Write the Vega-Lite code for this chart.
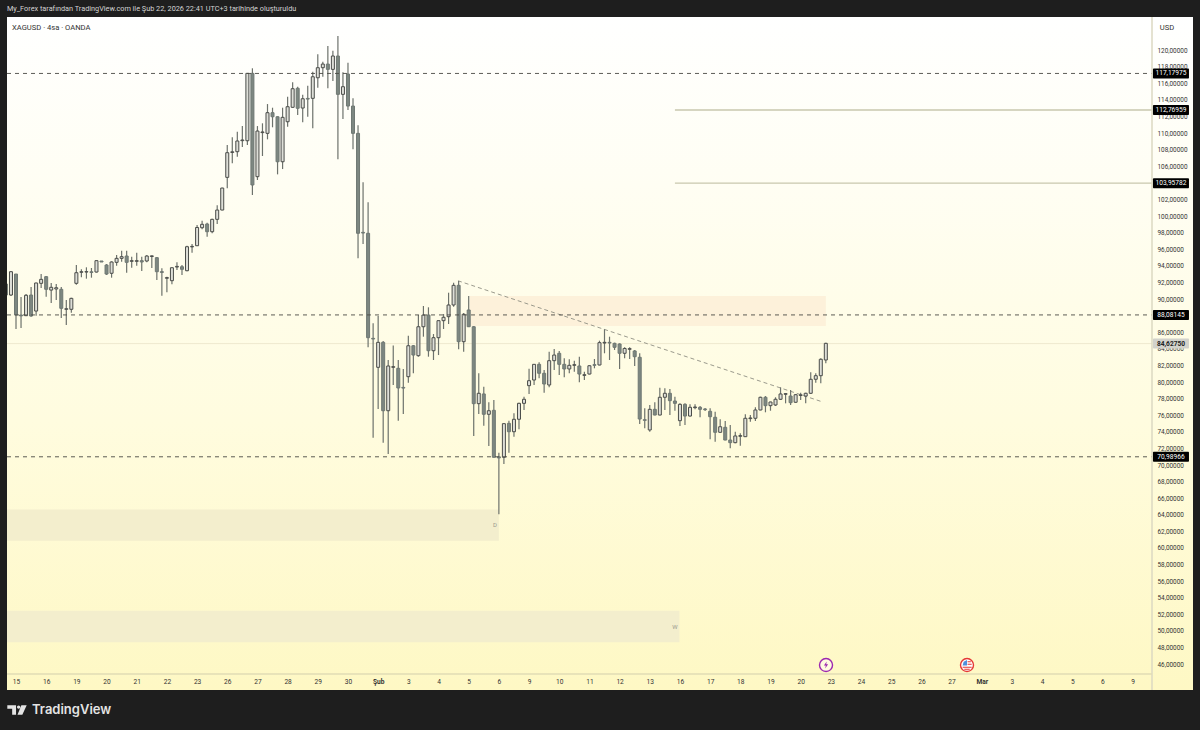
{
"$schema":"https://vega.github.io/schema/vega-lite/v6.json",
"width":1186,"height":673,
"autosize":{"type":"none"},
"padding":{"left":7,"top":17,"right":7,"bottom":40},
"background":"#1e1e1e",
"view":{"stroke":null,"fill":{"gradient":"linear","x1":0,"y1":0,"x2":0,"y2":1,"stops":[{"offset":0,"color":"#ffffff"},{"offset":0.25,"color":"#fffef3"},{"offset":0.6,"color":"#fffcdf"},{"offset":1,"color":"#fef8c4"}]}},
"datasets":{
"candles":[
{"i":-2,"o":91.81,"c":90.48,"h":92.05,"l":90.48},{"i":-1,"o":90.48,"c":93.29,"h":93.37,"l":90.36},{"i":0,"o":93.01,"c":88.07,"h":93.01,"l":86.39},{"i":1,"o":88.07,"c":87.97,"h":90.24,"l":86.51},{"i":2,"o":87.99,"c":90.45,"h":90.6,"l":87.95},{"i":3,"o":90.48,"c":87.95,"h":91.45,"l":87.87},{"i":4,"o":88.55,"c":91.93,"h":91.96,"l":87.99},{"i":5,"o":91.89,"c":92.37,"h":93.01,"l":91.33},{"i":6,"o":92.69,"c":91.17,"h":92.77,"l":90.28},{"i":7,"o":91.08,"c":91.41,"h":91.93,"l":89.52},{"i":8,"o":91.21,"c":91.36,"h":91.81,"l":89.88},{"i":9,"o":91.17,"c":88.88,"h":91.45,"l":87.71},{"i":10,"o":88.76,"c":88.83,"h":89.88,"l":86.87},{"i":11,"o":88.76,"c":90.08,"h":90.16,"l":88.35},{"i":12,"o":91.89,"c":93.17,"h":94.1,"l":91.72},{"i":13,"o":93.22,"c":93.29,"h":93.58,"l":92.61},{"i":14,"o":93.25,"c":93.3,"h":93.82,"l":92.45},{"i":15,"o":93.28,"c":93.2,"h":93.74,"l":92.57},{"i":16,"o":93.25,"c":94.62,"h":94.64,"l":93.19},{"i":17,"o":94.58,"c":94.46,"h":94.58,"l":94.46},{"i":18,"o":94.1,"c":93.01,"h":94.22,"l":92.89},{"i":19,"o":93.1,"c":94.46,"h":94.54,"l":92.57},
{"i":20,"o":94.42,"c":94.9,"h":95.3,"l":94.01},{"i":21,"o":94.9,"c":95.1,"h":95.82,"l":94.49},{"i":22,"o":95.18,"c":94.42,"h":95.82,"l":93.17},{"i":23,"o":94.54,"c":94.62,"h":95.1,"l":93.77},{"i":24,"o":94.54,"c":94.62,"h":95.58,"l":94.01},{"i":25,"o":94.62,"c":94.46,"h":95.1,"l":93.37},{"i":26,"o":94.58,"c":95.18,"h":95.3,"l":94.42},{"i":27,"o":95.12,"c":95.2,"h":95.24,"l":93.74},{"i":28,"o":94.98,"c":93.29,"h":95.06,"l":92.29},{"i":29,"o":93.3,"c":93.2,"h":93.7,"l":90.4},{"i":30,"o":92.5,"c":92.58,"h":92.69,"l":90.81},{"i":31,"o":92.21,"c":93.77,"h":93.8,"l":91.77},{"i":32,"o":93.85,"c":93.93,"h":94.42,"l":93.49},{"i":33,"o":93.89,"c":93.58,"h":94.1,"l":92.89},{"i":34,"o":93.41,"c":96.3,"h":96.42,"l":93.34},{"i":35,"o":96.28,"c":96.34,"h":96.63,"l":95.58},{"i":36,"o":96.42,"c":98.62,"h":98.92,"l":96.39},{"i":37,"o":98.59,"c":99,"h":99.43,"l":98.4},{"i":38,"o":99.04,"c":98.11,"h":99.19,"l":97.51},{"i":39,"o":98.11,"c":99.6,"h":99.68,"l":97.92},
{"i":40,"o":99.6,"c":100.72,"h":101.29,"l":99.04},{"i":41,"o":100.72,"c":103.37,"h":103.41,"l":100.69},{"i":42,"o":104.66,"c":107.63,"h":108.55,"l":103.34},{"i":43,"o":107.66,"c":107.74,"h":109.48,"l":106.35},{"i":44,"o":107.75,"c":109.04,"h":110.16,"l":107.15},{"i":45,"o":109.08,"c":109.16,"h":110.84,"l":108.31},{"i":46,"o":109.07,"c":117.19,"h":117.23,"l":108.55},{"i":47,"o":117.19,"c":103.74,"h":117.8,"l":102.53},{"i":48,"o":104.74,"c":110.24,"h":110.84,"l":104.34},{"i":49,"o":110.05,"c":110.13,"h":111.17,"l":107.23},{"i":50,"o":109.96,"c":112.45,"h":113.49,"l":109.24},{"i":51,"o":112.45,"c":111.96,"h":113.05,"l":110.69},{"i":52,"o":111.96,"c":106.54,"h":112.01,"l":105.02},{"i":53,"o":106.54,"c":111.89,"h":113.05,"l":105.66},{"i":54,"o":111.36,"c":113.17,"h":114.37,"l":110.76},{"i":55,"o":113.1,"c":115.34,"h":116.11,"l":113.05},{"i":56,"o":115.39,"c":112.98,"h":115.58,"l":112.17},{"i":57,"o":113.01,"c":114.13,"h":114.61,"l":111.29},{"i":58,"o":114.17,"c":114.09,"h":115.7,"l":111.96},{"i":59,"o":114.18,"c":116.78,"h":117.39,"l":110.57},
{"i":60,"o":116.66,"c":117.87,"h":119.48,"l":115.46},{"i":61,"o":117.87,"c":118.31,"h":118.59,"l":116.78},{"i":62,"o":118.31,"c":117.67,"h":120.48,"l":115.39},{"i":63,"o":117.67,"c":119.28,"h":119.92,"l":116.27},{"i":64,"o":119.28,"c":114.66,"h":121.69,"l":106.83},{"i":65,"o":114.66,"c":115.58,"h":117.31,"l":111.69},{"i":66,"o":117.11,"c":113.25,"h":118.47,"l":112.77},{"i":67,"o":113.25,"c":109.96,"h":114.18,"l":108.04},{"i":68,"o":109.96,"c":97.92,"h":110.93,"l":94.9},{"i":69,"o":98.03,"c":97.95,"h":104.06,"l":96.63},{"i":70,"o":97.92,"c":85.34,"h":101.65,"l":84.18},{"i":71,"o":85.26,"c":85.18,"h":87.07,"l":73.29},{"i":72,"o":81.77,"c":84.78,"h":87.95,"l":76.75},{"i":73,"o":84.78,"c":76.54,"h":84.94,"l":72.69},{"i":74,"o":76.54,"c":81.93,"h":82.65,"l":71.33},{"i":75,"o":81.77,"c":81.85,"h":84.4,"l":79.64},{"i":76,"o":81.65,"c":79.28,"h":82.65,"l":75.34},{"i":77,"o":79.35,"c":79.27,"h":81.57,"l":76.15},{"i":78,"o":80.64,"c":84.37,"h":85.58,"l":79.92},{"i":79,"o":84.37,"c":83.25,"h":84.46,"l":81.05},
{"i":80,"o":83.17,"c":86.66,"h":88.07,"l":83.05},{"i":81,"o":86.66,"c":88.07,"h":89.16,"l":85.46},{"i":82,"o":88.07,"c":83.77,"h":89,"l":83.05},{"i":83,"o":83.77,"c":85.34,"h":85.78,"l":82.65},{"i":84,"o":85.34,"c":87.39,"h":87.43,"l":83.25},{"i":85,"o":87.39,"c":87.8,"h":88.19,"l":86.39},{"i":86,"o":87.87,"c":89.28,"h":90.76,"l":86.99},{"i":87,"o":89.28,"c":91.65,"h":91.96,"l":89.07},{"i":88,"o":91.65,"c":84.86,"h":92.17,"l":83.94},{"i":89,"o":84.86,"c":88.16,"h":88.31,"l":83.65},{"i":90,"o":88.68,"c":86.66,"h":90.36,"l":86.62},{"i":91,"o":86.66,"c":77.39,"h":86.75,"l":73.5},{"i":92,"o":77.39,"c":78.64,"h":81.05,"l":76.15},{"i":93,"o":78.56,"c":76.11,"h":79.43,"l":74.74},{"i":94,"o":76.11,"c":76.54,"h":77.56,"l":72.29},{"i":95,"o":76.59,"c":70.93,"h":77.83,"l":70.89},{"i":96,"o":70.99,"c":70.85,"h":71.48,"l":64.06},{"i":97,"o":70.93,"c":74.98,"h":75.02,"l":70.12},{"i":98,"o":75.02,"c":74.01,"h":75.34,"l":71.48},{"i":99,"o":74.01,"c":75.51,"h":76.23,"l":73.41},
{"i":100,"o":75.51,"c":77.43,"h":77.49,"l":74.3},{"i":101,"o":77.43,"c":77.92,"h":78.23,"l":76.63},{"i":102,"o":79.56,"c":80.16,"h":81.6,"l":78.56},{"i":103,"o":80.24,"c":82.13,"h":82.17,"l":79.64},{"i":104,"o":82.13,"c":81.05,"h":82.37,"l":80.45},{"i":105,"o":81.05,"c":79.76,"h":81.45,"l":78.71},{"i":106,"o":79.64,"c":82.57,"h":83.65,"l":79.36},{"i":107,"o":82.57,"c":83.25,"h":83.98,"l":81.45},{"i":108,"o":83.46,"c":82.13,"h":83.74,"l":80.84},{"i":109,"o":82.13,"c":81.57,"h":82.86,"l":80.57},{"i":110,"o":81.57,"c":82.01,"h":82.74,"l":81.05},{"i":111,"o":82.01,"c":82.09,"h":82.57,"l":81.24},{"i":112,"o":81.93,"c":80.96,"h":83.05,"l":79.96},{"i":113,"o":80.8,"c":80.88,"h":81.24,"l":80.24},{"i":114,"o":80.96,"c":81.96,"h":82.02,"l":80.92},{"i":115,"o":82.09,"c":82.01,"h":82.77,"l":81.65},{"i":116,"o":82.05,"c":84.74,"h":84.98,"l":82.01},{"i":117,"o":84.7,"c":84.78,"h":86.35,"l":83.46},{"i":118,"o":84.78,"c":84.7,"h":85.46,"l":82.65},{"i":119,"o":84.66,"c":84.18,"h":84.74,"l":83.86},
{"i":120,"o":84.58,"c":83.46,"h":84.66,"l":81.57},{"i":121,"o":83.46,"c":84.04,"h":84.18,"l":82.86},{"i":122,"o":83.94,"c":84.02,"h":84.18,"l":82.77},{"i":123,"o":83.74,"c":83.05,"h":83.86,"l":81.93},{"i":124,"o":82.98,"c":75.54,"h":83.46,"l":74.94},{"i":125,"o":75.46,"c":75.38,"h":76.83,"l":74.42},{"i":126,"o":74.22,"c":76.71,"h":77.23,"l":74.01},{"i":127,"o":76.71,"c":76.02,"h":77.56,"l":75.99},{"i":128,"o":76.02,"c":78.16,"h":79.31,"l":75.99},{"i":129,"o":78.16,"c":78.64,"h":79.24,"l":76.63},{"i":130,"o":78.64,"c":77.75,"h":79.16,"l":76.02},{"i":131,"o":77.71,"c":77.43,"h":78.23,"l":76.54},{"i":132,"o":75.34,"c":77.31,"h":77.43,"l":74.7},{"i":133,"o":77.31,"c":75.9,"h":77.43,"l":74.82},{"i":134,"o":75.9,"c":76.95,"h":77.31,"l":75.84},{"i":135,"o":76.91,"c":76.99,"h":77.31,"l":76.71},{"i":136,"o":76.95,"c":76.71,"h":77.11,"l":75.75},{"i":137,"o":76.75,"c":76.67,"h":76.87,"l":76.51},{"i":138,"o":76.47,"c":75.82,"h":76.83,"l":73.1},{"i":139,"o":75.75,"c":73.94,"h":76.42,"l":72.81},
{"i":140,"o":73.94,"c":74.61,"h":75.51,"l":73.9},{"i":141,"o":74.54,"c":73.01,"h":75.3,"l":72.98},{"i":142,"o":73.01,"c":72.69,"h":74.82,"l":72.01},{"i":143,"o":72.69,"c":73.5,"h":74.01,"l":72.61},{"i":144,"o":73.46,"c":73.54,"h":73.82,"l":72.33},{"i":145,"o":73.41,"c":75.63,"h":76.11,"l":73.37},{"i":146,"o":75.59,"c":75.67,"h":76.02,"l":75.22},{"i":147,"o":75.63,"c":76.63,"h":76.95,"l":75.3},{"i":148,"o":76.63,"c":78.16,"h":78.23,"l":76.59},{"i":149,"o":78.16,"c":77.15,"h":78.31,"l":76.35},{"i":150,"o":77.15,"c":77.59,"h":77.63,"l":76.54},{"i":151,"o":77.23,"c":77.92,"h":78.16,"l":77.11},{"i":152,"o":77.92,"c":78.56,"h":79.36,"l":77.83},{"i":153,"o":78.52,"c":78.6,"h":78.64,"l":77.43},{"i":154,"o":78.31,"c":77.51,"h":79.04,"l":77.23},{"i":155,"o":77.56,"c":78.47,"h":78.56,"l":77.51},{"i":156,"o":78.38,"c":78.46,"h":78.71,"l":77.83},{"i":157,"o":78.31,"c":78.64,"h":78.71,"l":77.43},{"i":158,"o":78.64,"c":80.33,"h":81.17,"l":78.56},{"i":159,"o":80.33,"c":80.76,"h":81.05,"l":79.92},{"i":160,"o":80.76,"c":82.74,"h":82.86,"l":79.84},{"i":161,"o":82.65,"c":84.66,"h":84.74,"l":82.25}
],
"tags":[
{"p":117.17975,"t":"117,17975","a":226.04,"b":233.2},
{"p":112.76959,"t":"112,76959","a":226.04,"b":233.2},
{"p":103.95782,"t":"103,95782","a":226.04,"b":233.2},
{"p":88.08145,"t":"88,08145","a":226.04,"b":233.2},
{"p":70.98966,"t":"70,98966","a":226.04,"b":233.2}
]
},
"layer":[
{"data":{"values":[
{"a":-1.79,"b":96,"top":64.64,"bot":60.88,"zone":"gray"},
{"a":-1.79,"b":131.9,"top":52.45,"bot":48.64,"zone":"gray"},
{"a":90.26,"b":161,"top":90.36,"bot":86.75,"zone":"orange"}
]},
"mark":{"type":"rect"},
"encoding":{
"x":{"field":"a","type":"quantitative","scale":{"domain":[-1.79,234],"nice":false,"zero":false,"padding":0},"title":null,
"axis":{"orient":"bottom","offset":-16,"domain":false,"grid":false,"ticks":false,"tickCount":100,"labelPadding":4,"labelFont":"Roboto","labelFontSize":6.6,"labelColor":"#333333","labelOverlap":false,"labelFlush":false,"labelBound":false,
"values":[0,6,12,18,24,30,36,42,48,54,60,66,72,78,84,90,96,102,108,114,120,126,132,138,144,150,156,162,168,174,180,186,192,198,204,210,216,222],
"labelFontWeight":{"condition":{"test":"datum.value==72||datum.value==192","value":"bold"},"value":"normal"},
"labelExpr":"['15','16','19','20','21','22','23','26','27','28','29','30','Şub','3','4','5','6','9','10','11','12','13','16','17','18','19','20','23','24','25','26','27','Mar','3','4','5','6','9'][datum.value/6]"}},
"x2":{"field":"b"},
"y":{"field":"top","type":"quantitative","scale":{"domain":[42.89,123.98],"nice":false,"zero":false,"padding":0},"title":null,
"axis":{"orient":"right","offset":-41,"domain":false,"grid":false,"ticks":false,"tickCount":100,"labelPadding":5,"labelFont":"Roboto","labelFontSize":6.4,"labelColor":"#333333","labelOverlap":false,"labelFlush":false,"labelBound":false,
"values":[46,48,50,52,54,56,58,60,62,64,66,68,70,72,74,76,78,80,82,84,86,88,90,92,94,96,98,100,102,104,106,108,110,112,114,116,118,120],
"labelExpr":"replace(format(datum.value,'.5f'),'.',',')"}},
"y2":{"field":"bot"},
"color":{"field":"zone","type":"nominal","legend":null,"scale":{"domain":["gray","orange"],"range":["#f3eecd","#fdf1da"]}}
}},
{"data":{"values":[{"a":-1.79,"b":225.85,"p":84.6275}]},
"mark":{"type":"rule","color":"#efe9cf","strokeWidth":1},
"encoding":{"x":{"field":"a","type":"quantitative","title":null},"x2":{"field":"b"},"y":{"field":"p","type":"quantitative","title":null}}},
{"data":{"values":[{"a":131,"b":225.85,"p":112.76959},{"a":131,"b":225.85,"p":103.95782}]},
"mark":{"type":"rule","color":"#c9c7ae","strokeWidth":1.4},
"encoding":{"x":{"field":"a","type":"quantitative","title":null},"x2":{"field":"b"},"y":{"field":"p","type":"quantitative","title":null}}},
{"data":{"values":[{"a":87.87,"b":160.4,"p":92.2,"q":77.59}]},
"mark":{"type":"rule","color":"#8f8f82","strokeWidth":0.9,"strokeDash":[4,3]},
"encoding":{"x":{"field":"a","type":"quantitative","title":null},"x2":{"field":"b"},"y":{"field":"p","type":"quantitative","title":null},"y2":{"field":"q"}}},
{"data":{"name":"candles"},
"mark":{"type":"rule","color":"#6d726c","strokeWidth":1.2,"clip":true},
"encoding":{"x":{"field":"i","type":"quantitative","title":null},"y":{"field":"l","type":"quantitative","title":null},"y2":{"field":"h"}}},
{"data":{"name":"candles"},
"mark":{"type":"bar","size":3,"strokeWidth":1,"clip":true,"orient":"vertical"},
"encoding":{"x":{"field":"i","type":"quantitative","title":null},"y":{"field":"o","type":"quantitative","title":null},"y2":{"field":"c"},
"fill":{"condition":{"test":"datum.c>=datum.o","value":"#dedfd8"},"value":"#7d8781"},
"stroke":{"condition":{"test":"datum.c>=datum.o","value":"#4b4d4a"},"value":"#6f7873"}}},
{"data":{"values":[{"a":-1.79,"b":225.85,"p":117.17975},{"a":-1.79,"b":225.85,"p":88.08145},{"a":-1.79,"b":225.85,"p":70.98966}]},
"mark":{"type":"rule","color":"#4a4a44","strokeWidth":0.9,"strokeDash":[4,4]},
"encoding":{"x":{"field":"a","type":"quantitative","title":null},"x2":{"field":"b"},"y":{"field":"p","type":"quantitative","title":null}}},
{"data":{"values":[{"a":225.85,"p":123.98,"q":42.89}]},
"mark":{"type":"rule","color":"#dcd9c2","strokeWidth":1.5},
"encoding":{"x":{"field":"a","type":"quantitative","title":null},"y":{"field":"p","type":"quantitative","title":null},"y2":{"field":"q"}}},
{"data":{"values":[{"a":-1.79,"b":225.85,"p":44.82}]},
"mark":{"type":"rule","color":"#e0dcb4","strokeWidth":1.5},
"encoding":{"x":{"field":"a","type":"quantitative","title":null},"x2":{"field":"b"},"y":{"field":"p","type":"quantitative","title":null}}},
{"data":{"name":"tags"},
"mark":{"type":"bar","size":10,"color":"#000000","orient":"horizontal","cornerRadius":1},
"encoding":{"x":{"field":"a","type":"quantitative","title":null},"x2":{"field":"b"},"y":{"field":"p","type":"quantitative","title":null}}},
{"data":{"name":"tags"},
"mark":{"type":"text","font":"Roboto","fontSize":6.6,"color":"#ffffff","align":"center","baseline":"middle"},
"encoding":{"x":{"datum":229.62,"type":"quantitative","title":null},"y":{"field":"p","type":"quantitative","title":null},"text":{"field":"t"}}},
{"data":{"values":[{"a":226.04,"b":233.2,"p":84.6275,"t":"84,62750"}]},
"mark":{"type":"bar","size":10,"color":"#d2d2cb","orient":"horizontal","cornerRadius":1},
"encoding":{"x":{"field":"a","type":"quantitative","title":null},"x2":{"field":"b"},"y":{"field":"p","type":"quantitative","title":null}}},
{"data":{"values":[{"a":229.62,"p":84.6275,"t":"84,62750"}]},
"mark":{"type":"text","font":"Roboto","fontSize":6.6,"fontWeight":"bold","color":"#222222","align":"center","baseline":"middle"},
"encoding":{"x":{"field":"a","type":"quantitative","title":null},"y":{"field":"p","type":"quantitative","title":null},"text":{"field":"t"}}},
{"data":{"values":[{"a":95.2,"p":62.77,"t":"D"},{"a":131,"p":50.48,"t":"W"}]},
"mark":{"type":"text","font":"Roboto","fontSize":6,"color":"#9a9a8e","align":"center","baseline":"middle"},
"encoding":{"x":{"field":"a","type":"quantitative","title":null},"y":{"field":"p","type":"quantitative","title":null},"text":{"field":"t"}}},
{"data":{"values":[{"a":-1.79,"p":124.94,"t":"My_Forex tarafından TradingView.com ile Şub 22, 2026 22:41 UTC+3 tarihinde oluşturuldu"}]},
"mark":{"type":"text","font":"Roboto","fontSize":7.3,"color":"#d4d4d4","align":"left","baseline":"middle"},
"encoding":{"x":{"field":"a","type":"quantitative","title":null},"y":{"field":"p","type":"quantitative","title":null},"text":{"field":"t"}}},
{"data":{"values":[{"a":-0.8,"p":122.65,"t":"XAGUSD · 4sa · OANDA"},{"a":227.4,"p":122.65,"t":"USD"}]},
"mark":{"type":"text","font":"Roboto","fontSize":7.6,"color":"#333333","align":"left","baseline":"middle"},
"encoding":{"x":{"field":"a","type":"quantitative","title":null},"y":{"field":"p","type":"quantitative","title":null},"text":{"field":"t"}}},
{"data":{"values":[{"a":3.18,"p":40.48,"t":"TradingView"}]},
"mark":{"type":"text","font":"Inter","fontSize":13,"fontWeight":600,"color":"#e4e4e4","align":"left","baseline":"middle"},
"encoding":{"x":{"field":"a","type":"quantitative","title":null},"y":{"field":"p","type":"quantitative","title":null},"text":{"field":"t"}}},
{"data":{"values":[{"a":0.2,"p":40.48}]},
"mark":{"type":"point","filled":true,"opacity":1,"color":"#e4e4e4","size":376,"shape":"M-1,-0.5H-0.1V0.5H-0.5V-0.13H-1Z M0.34,-0.3A0.17,0.17,0,1,1,0,-0.3A0.17,0.17,0,1,1,0.34,-0.3Z M0.45,-0.5H1L0.55,0.5H0.05Z"},
"encoding":{"x":{"field":"a","type":"quantitative","title":null},"y":{"field":"p","type":"quantitative","title":null}}},
{"data":{"values":[{"a":161.04,"p":45.9}]},
"mark":{"type":"point","filled":true,"opacity":1,"fill":"#fffbe0","stroke":"#9c27b0","strokeWidth":1.4,"size":170,"shape":"circle"},
"encoding":{"x":{"field":"a","type":"quantitative","title":null},"y":{"field":"p","type":"quantitative","title":null}}},
{"data":{"values":[{"a":161.04,"p":45.9}]},
"mark":{"type":"point","filled":true,"opacity":1,"color":"#9c27b0","size":49,"shape":"M0.2,-1L-0.6,0.15H-0.05L-0.25,1L0.6,-0.2H0.05Z"},
"encoding":{"x":{"field":"a","type":"quantitative","title":null},"y":{"field":"p","type":"quantitative","title":null}}},
{"data":{"values":[{"a":189.07,"p":45.9}]},
"mark":{"type":"point","filled":true,"opacity":1,"fill":"#ffffff","stroke":"#e53935","strokeWidth":1.4,"size":170,"shape":"circle"},
"encoding":{"x":{"field":"a","type":"quantitative","title":null},"y":{"field":"p","type":"quantitative","title":null}}},
{"data":{"values":[{"a":189.07,"p":45.9}]},
"mark":{"type":"point","filled":true,"opacity":1,"color":"#4f8fdc","size":121,"shape":"M-0.8,0.1L-0.6,-0.6L0,-0.9V0.1Z"},
"encoding":{"x":{"field":"a","type":"quantitative","title":null},"y":{"field":"p","type":"quantitative","title":null}}},
{"data":{"values":[{"a":189.07,"p":45.9}]},
"mark":{"type":"point","filled":true,"opacity":1,"color":"#e53935","size":121,"shape":"M0.1,-0.7H0.7V-0.5H0.1Z M0.1,-0.25H0.85V-0.05H0.1Z M-0.8,0.3H0.85V0.5H-0.8Z M-0.5,0.7H0.5V0.85H-0.5Z"},
"encoding":{"x":{"field":"a","type":"quantitative","title":null},"y":{"field":"p","type":"quantitative","title":null}}}
]
}
